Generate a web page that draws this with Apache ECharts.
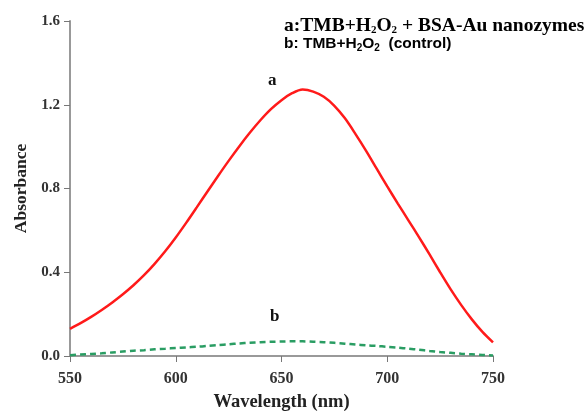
<!DOCTYPE html>
<html>
<head>
<meta charset="utf-8">
<script src="https://cdn.jsdelivr.net/npm/echarts@6/dist/echarts.min.js"></script>
<style>
  html, body { margin: 0; padding: 0; background: #fff; }
  #chart { width: 587px; height: 412px; }
</style>
</head>
<body>
<div id="chart"></div>
<script>
// wavelength (nm) and absorbance
const wavelengths = [550, 555, 560, 565, 570, 575, 580, 585, 590, 595, 600, 605, 610, 615, 620, 625, 630, 635, 640, 645, 650,
                     655, 660, 665, 670, 675, 680, 685, 690, 695, 700, 705, 710, 715, 720, 725, 730, 735, 740, 745, 750];
const absA = [0.13, 0.157, 0.187, 0.22, 0.256, 0.295, 0.338, 0.386, 0.44, 0.5, 0.566, 0.637, 0.711, 0.786, 0.86, 0.932, 1.001, 1.066, 1.126, 1.179, 1.222,
              1.255, 1.273, 1.263, 1.238, 1.195, 1.135, 1.06, 0.98, 0.895, 0.81, 0.728, 0.648, 0.568, 0.485, 0.4, 0.318, 0.243, 0.175, 0.115, 0.065];
const absB = [0.004, 0.007, 0.01, 0.013, 0.017, 0.021, 0.025, 0.028, 0.032, 0.035, 0.038, 0.041, 0.044, 0.048, 0.052, 0.056, 0.06, 0.063, 0.066, 0.068, 0.069,
              0.07, 0.07, 0.068, 0.066, 0.063, 0.059, 0.055, 0.051, 0.048, 0.044, 0.04, 0.035, 0.03, 0.024, 0.019, 0.015, 0.011, 0.008, 0.005, 0.002];
const xTicks = [550, 600, 650, 700, 750];
const yTicks = [0.0, 0.4, 0.8, 1.2, 1.6];

const serif = '"Liberation Serif", "DejaVu Serif", serif';
const sans = '"Liberation Sans", Arial, sans-serif';

const chart = echarts.init(document.getElementById('chart'));

const subStyle = (fam, size) => ({
  fontFamily: fam, fontWeight: 'bold', fontSize: size, color: '#111',
  padding: [8, 0, 0, 0]
});

chart.setOption({
  animation: false,
  grid: { left: 70, right: 94, top: 21, bottom: 56, outerBoundsMode: 'none' },
  xAxis: {
    type: 'value',
    min: xTicks[0],
    max: xTicks[xTicks.length - 1],
    interval: 50,
    name: 'Wavelength (nm)',
    nameLocation: 'middle',
    nameGap: 37,
    nameTextStyle: { fontFamily: serif, fontWeight: 'bold', fontSize: 18.5, color: '#222' },
    axisLine: { lineStyle: { color: '#999', width: 2 } },
    axisTick: { length: 6, lineStyle: { color: '#777', width: 1 } },
    axisLabel: { fontFamily: serif, fontWeight: 'bold', fontSize: 16, color: '#333', margin: 15 },
    splitLine: { show: false }
  },
  yAxis: {
    type: 'value',
    min: yTicks[0],
    max: yTicks[yTicks.length - 1],
    interval: 0.4,
    name: 'Absorbance',
    nameLocation: 'middle',
    nameGap: 37,
    nameTextStyle: { fontFamily: serif, fontWeight: 'bold', fontSize: 17.5, color: '#222' },
    axisLine: { show: true, lineStyle: { color: '#999', width: 2 } },
    axisTick: { show: true, length: 6, lineStyle: { color: '#777', width: 1 } },
    axisLabel: {
      fontFamily: serif, fontWeight: 'bold', fontSize: 15, color: '#333', margin: 10,
      formatter: v => v.toFixed(1)
    },
    splitLine: { show: false }
  },
  series: [
    {
      name: 'a',
      type: 'line',
      smooth: 0.3,
      showSymbol: false,
      data: wavelengths.map((w, i) => [w, absA[i]]),
      lineStyle: { color: '#ff1a1a', width: 2.5 },
      z: 3
    },
    {
      name: 'b',
      type: 'line',
      smooth: 0.3,
      showSymbol: false,
      data: wavelengths.map((w, i) => [w, absB[i]]),
      lineStyle: { color: '#2a9d63', width: 2.5, type: [6, 4] },
      z: 4
    }
  ],
  graphic: [
    {
      type: 'text', left: 268, top: 72,
      style: { text: 'a', font: 'bold 17px ' + serif, fill: '#111' }
    },
    {
      type: 'text', left: 270, top: 308,
      style: { text: 'b', font: 'bold 17px ' + serif, fill: '#111' }
    },
    {
      type: 'text', left: 284, top: 16,
      style: {
        text: '{t|a:TMB+H}{s|2}{t|O}{s|2}{t| + BSA-Au nanozymes}',
        rich: {
          t: { fontFamily: serif, fontWeight: 'bold', fontSize: 19.5, color: '#111' },
          s: subStyle(serif, 11)
        }
      }
    },
    {
      type: 'text', left: 284, top: 36,
      style: {
        text: '{t|b: TMB+H}{s|2}{t|O}{s|2}{t|  (control)}',
        rich: {
          t: { fontFamily: sans, fontWeight: 'bold', fontSize: 15.5, color: '#111' },
          s: subStyle(sans, 10)
        }
      }
    }
  ]
});
</script>
</body>
</html>
